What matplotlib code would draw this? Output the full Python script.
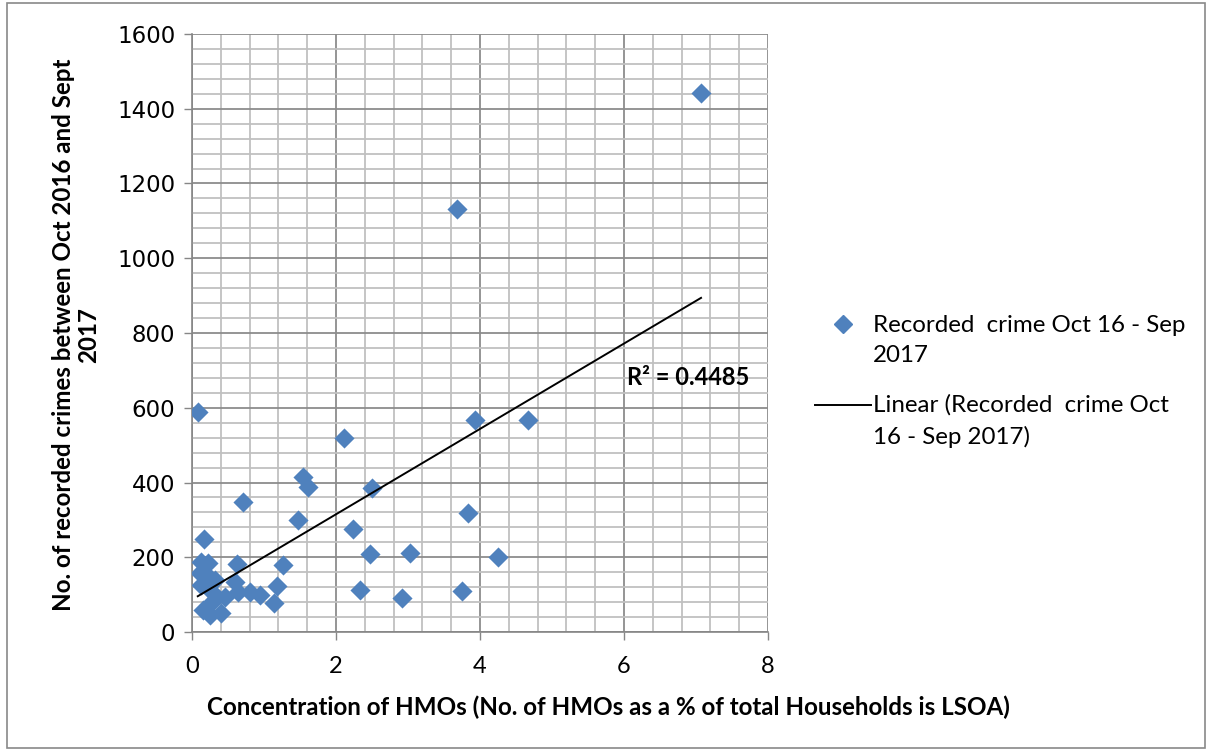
import numpy as np
import matplotlib
matplotlib.use("Agg")
import matplotlib.pyplot as plt
from matplotlib.lines import Line2D
from matplotlib.patches import Rectangle

plt.rcParams['font.family'] = ['Lato', 'DejaVu Sans']

# HMO concentration (%) vs recorded crimes Oct 16 - Sep 2017
hmo_pct = [7.07, 3.68, 0.08, 2.11, 3.93, 4.67, 0.71, 1.54, 1.61, 1.47,
           2.50, 2.24, 3.83, 2.47, 3.03, 4.25, 2.33, 2.92, 3.75, 0.17,
           1.26, 1.18, 1.14, 0.95, 0.62, 0.13, 0.22, 0.11, 0.32, 0.60,
           0.64, 0.80, 0.13, 0.46, 0.29, 0.15, 0.25, 0.40, 0.20, 0.28]
crimes = [1442, 1133, 588, 519, 567, 567, 348, 415, 388, 301,
          385, 276, 318, 208, 212, 201, 113, 91, 110, 248,
          178, 124, 77, 98, 183, 187, 185, 157, 140, 133,
          107, 106, 126, 93, 82, 60, 46, 52, 155, 108]

r2_label = "R² = 0.4485"
series_lines = ["Recorded  crime Oct 16 - Sep", "2017"]
trend_lines = ["Linear (Recorded  crime Oct", "16 - Sep 2017)"]

BLUE = "#4F81BD"
W, H = 1208, 751

fig = plt.figure(figsize=(12.08, 7.51), dpi=100)
ax = fig.add_axes([192/W, 1-632/H, 576/W, 598/H])

x = np.array(hmo_pct)
y = np.array(crimes)
ax.scatter(x, y, marker='D', s=105, color=BLUE, zorder=3, linewidths=0)

# linear trendline
slope, icpt = np.polyfit(x, y, 1)
xs = np.array([x.min(), x.max()])
ax.plot(xs, slope*xs + icpt, color='black', lw=1.4, zorder=4)

ax.text(6.04, 680, r2_label, fontsize=17, fontweight='bold', va='center', ha='left', zorder=5)

ax.set_xlim(0, 8)
ax.set_ylim(0, 1600)
ax.set_xticks(np.arange(0, 9, 2))
ax.set_yticks(np.arange(0, 1601, 200))
ax.set_xticks(np.arange(0, 8.01, 0.4), minor=True)
ax.set_yticks(np.arange(0, 1601, 40), minor=True)
ax.grid(True, which='minor', color='#c0c0c0', lw=1.3, zorder=0)
ax.grid(True, which='major', color='#8c8c8c', lw=1.3, zorder=1)
ax.set_axisbelow(True)
ax.tick_params(which='minor', length=0)
ax.tick_params(which='major', length=6, width=1, color='#868686')
ax.tick_params(axis='x', labelsize=17, pad=11)
ax.tick_params(axis='y', labelsize=16.5, pad=6)
for lab in ax.get_yticklabels():
    lab.set_family('DejaVu Sans')
for s in ['top', 'right']:
    ax.spines[s].set_visible(False)
for s in ['left', 'bottom']:
    ax.spines[s].set_color('#868686')
    ax.spines[s].set_linewidth(1.2)

ax.set_xlabel("Concentration of HMOs (No. of HMOs as a % of total Households is LSOA)",
              fontsize=17.4, fontweight='bold', va='center')
ax.xaxis.set_label_coords((608-192)/576, (632-707)/598)
ax.set_ylabel("No. of recorded crimes between Oct 2016 and Sept\n2017",
              fontsize=17.4, fontweight='bold', linespacing=1.15, va='center')
ax.yaxis.set_label_coords((76-192)/576, (632-335)/598)

# legend drawn by hand to keep markers on the first text line
fig.add_artist(Line2D([843/W], [1-324/H], marker='D', ms=9, color=BLUE, lw=0))
fig.add_artist(Line2D([815/W, 871/W], [1-405/H, 1-405/H], color='black', lw=1.4))
for i, t in enumerate(series_lines):
    fig.text(873/W, 1-(325+30*i)/H, t, fontsize=17.4, va='center', ha='left')
for i, t in enumerate(trend_lines):
    fig.text(873/W, 1-(405+32*i)/H, t, fontsize=17.4, va='center', ha='left')

fig.add_artist(Rectangle((7/W, 1-748/H), 1198/W, 745/H, transform=fig.transFigure,
                         fill=False, edgecolor='#898989', lw=1.2))

fig.savefig("out.png", dpi=100)
